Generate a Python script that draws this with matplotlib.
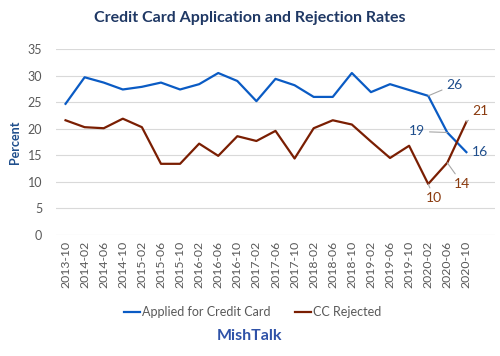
import matplotlib
matplotlib.use("Agg")
import matplotlib.pyplot as plt

plt.rcParams['font.family'] = ['Lato', 'DejaVu Sans']

# every 4 months, Oct 2013 .. Oct 2020
dates = ["2013-10", "2014-02", "2014-06", "2014-10", "2015-02", "2015-06",
         "2015-10", "2016-02", "2016-06", "2016-10", "2017-02", "2017-06",
         "2017-10", "2018-02", "2018-06", "2018-10", "2019-02", "2019-06",
         "2019-10", "2020-02", "2020-06", "2020-10"]

applied = [24.7, 29.7, 28.7, 27.4, 27.9, 28.7, 27.4, 28.4, 30.5, 29.0, 25.2,
           29.4, 28.2, 26.0, 26.0, 30.5, 26.9, 28.4, 27.3, 26.2, 19.3, 15.6]
rejected = [21.6, 20.3, 20.1, 21.9, 20.3, 13.4, 13.4, 17.2, 14.9, 18.6, 17.7,
            19.6, 14.4, 20.1, 21.6, 20.8, 17.6, 14.5, 16.8, 9.6, 13.6, 21.3]

BLUE = "#0A5BC4"
RED = "#7A1E02"
BLUE_LBL = "#1F4E8C"
RED_LBL = "#8A3A0E"
GRAY = "#595959"

fig = plt.figure(figsize=(5, 3.56), dpi=100)
ax = fig.add_axes([0.112, 0.34, 0.878, 0.522])

x = list(range(len(dates)))
ax.plot(x, applied, color=BLUE, lw=1.6, label="Applied for Credit Card")
ax.plot(x, rejected, color=RED, lw=1.6, label="CC Rejected")

ax.set_xlim(-0.5, len(dates) + 0.5)
ax.set_ylim(0, 35)
ax.set_yticks(range(0, 36, 5))
ax.set_xticks(x)
ax.set_xticklabels(dates, rotation=90, fontsize=8.8, color=GRAY)
ax.tick_params(axis='y', labelsize=9, labelcolor=GRAY, length=0, pad=10)
ax.tick_params(axis='x', length=0, pad=4)
ax.grid(axis='y', color="#D9D9D9", lw=0.8)
ax.set_axisbelow(True)
for s in ax.spines.values():
    s.set_visible(False)

ax.set_ylabel("Percent", fontsize=9, fontweight='bold', color="#1F4E8C", labelpad=5)

# data labels with leader lines (offsets in pixels)
lead = dict(arrowstyle='-', color="#A6A6A6", lw=0.8, shrinkA=1, shrinkB=0)
labels = [
    (19, applied, "26", (26, 11), BLUE_LBL),
    (20, applied, "19", (-30, 1), BLUE_LBL),
    (21, applied, "16", (14, 0), BLUE_LBL),
    (21, rejected, "21", (14, 11), RED_LBL),
    (20, rejected, "14", (15, -21), RED_LBL),
    (19, rejected, "10", (6, -14), RED_LBL),
]
for i, series, txt, off, col in labels:
    ax.annotate(txt, xy=(i, series[i]), xytext=off, textcoords='offset pixels',
                ha='center', va='center', fontsize=10, color=col,
                arrowprops=None if txt == "16" else lead)

fig.text(0.5, 0.95, "Credit Card Application and Rejection Rates", ha='center',
         va='center', fontsize=11.5, fontweight='bold', color="#1F3864")

leg = ax.legend(loc='center', bbox_to_anchor=(0.505, 1 - 312 / 356),
                bbox_transform=fig.transFigure, ncol=2, frameon=False,
                fontsize=9, labelcolor=GRAY, handlelength=1.3,
                handletextpad=0.1, columnspacing=2.0)

fig.text(0.5, 1 - 336 / 356, "MishTalk", ha='center', va='center', fontsize=11.5,
         fontweight='bold', color="#2F52A8")

fig.savefig("out.png", dpi=100)
